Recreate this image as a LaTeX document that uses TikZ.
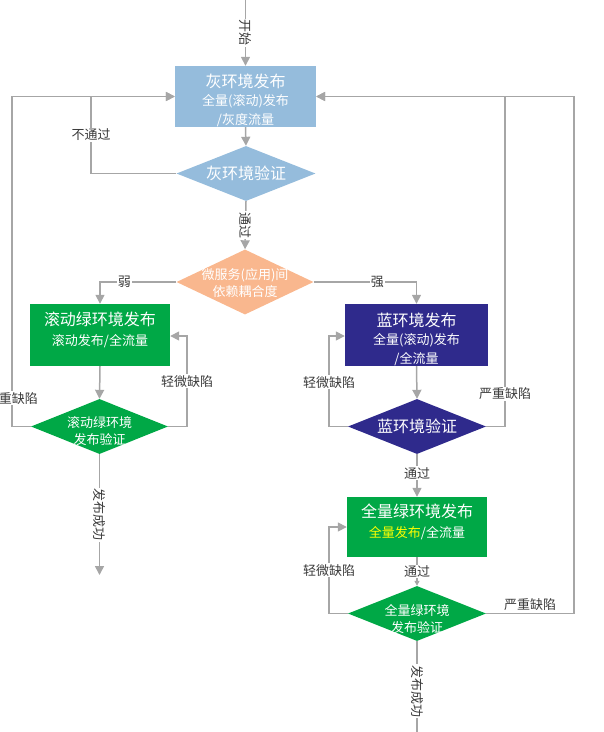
\documentclass[tikz,border=0pt]{standalone}
\usepackage{fontspec}
\setmainfont{Noto Sans CJK SC}
\usetikzlibrary{arrows.meta,shapes.geometric}
\definecolor{linegray}{HTML}{A6A6A6}
\definecolor{labgray}{HTML}{3A3A3A}
\definecolor{grayblue}{HTML}{95BCDC}
\definecolor{peach}{HTML}{F9B78E}
\definecolor{envgreen}{HTML}{00A846}
\definecolor{indigo}{HTML}{2F2A8C}
\definecolor{yel}{HTML}{FFFF00}
\tikzset{
  ln/.style={draw=linegray, line width=1.5pt},
  arr/.style={ln, -{Triangle[length=9pt,width=9pt]}},
  smallarr/.style={ln, -{Triangle[length=5pt,width=5pt]}},
  lbl/.style={text=labgray, font=\fontsize{13}{15}\selectfont, fill=white, inner sep=1pt},
  vlbl/.style={lbl, rotate=-90},
  boxs/.style={rectangle, inner sep=0pt, draw=none},
  dias/.style={diamond, inner sep=0pt, draw=none},
  dtext/.style={text=white, align=center, inner sep=0pt},
  big/.style={font=\fontsize{16}{18}\selectfont},
  mid/.style={font=\fontsize{13}{17}\selectfont},
  box3/.style={font=\fontsize{13}{18.5}\selectfont},
  box2/.style={font=\fontsize{13}{20}\selectfont},
}
\begin{document}
\begin{tikzpicture}[x=1pt,y=-1pt]
\useasboundingbox (0,0) rectangle (604,732);

% nodes
\node[boxs, fill=grayblue, minimum width=141pt, minimum height=61pt,
  label={[dtext,box3,yshift=-3.5pt]center:{\fontsize{16}{18.5}\selectfont 灰环境发布}\\全量(滚动)发布\\/灰度流量}] (gbox) at (245.5,96.5) {};
\node[dias, fill=grayblue, minimum width=139pt, minimum height=55pt,
  label={[dtext,big]center:灰环境验证}] (gdia) at (246,173.5) {};
\node[dias, fill=peach, minimum width=137pt, minimum height=65pt,
  label={[dtext,mid,yshift=-1.5pt]center:微服务(应用)间\\依赖耦合度}] (odia) at (245,282) {};

\node[boxs, fill=envgreen, minimum width=140pt, minimum height=62pt,
  label={[dtext,box2,yshift=5pt]center:{\fontsize{16}{20}\selectfont 滚动绿环境发布}\\滚动发布/全流量}] (rbox) at (100,335) {};
\node[dias, fill=envgreen, minimum width=137pt, minimum height=55pt,
  label={[dtext,mid,yshift=-5pt]center:滚动绿环境\\发布验证}] (rdia) at (99.5,426.5) {};

\node[boxs, fill=indigo, minimum width=143pt, minimum height=62pt,
  label={[dtext,box3,yshift=-4pt]center:{\fontsize{16}{18.5}\selectfont 蓝环境发布}\\全量(滚动)发布\\/全流量}] (bbox) at (416.5,335) {};
\node[dias, fill=indigo, minimum width=138pt, minimum height=55pt,
  label={[dtext,big]center:蓝环境验证}] (bdia) at (417,426.5) {};

\node[boxs, fill=envgreen, minimum width=140pt, minimum height=60pt,
  label={[dtext,box2,yshift=5pt]center:{\fontsize{16}{20}\selectfont 全量绿环境发布}\\{\color{yel}全量发布}/全流量}] (fbox) at (417,527) {};
\node[dias, fill=envgreen, minimum width=138pt, minimum height=55pt,
  label={[dtext,mid,yshift=-5pt]center:全量绿环境\\发布验证}] (fdia) at (417,613.5) {};

% helper coordinates
\coordinate (start) at (245.5,0);
\coordinate (lpA) at (91,96.5);
\coordinate (lpOut) at (12,96.5);
\coordinate (rlp) at (187,336);
\coordinate (end1) at (99.5,575);
\coordinate (blp) at (329,336);
\coordinate (brt) at (505,96.5);
\coordinate (flp) at (329,527);
\coordinate (frt) at (574,96.5);
\coordinate (end2) at (417,732);

% connectors
\draw[arr] (start) -- node[vlbl, pos=0.5]{开始} (gbox.north);
\draw[arr] (gbox.south) -- (gdia.north);
\draw[arr] (gdia.west) -| node[lbl, pos=0.75]{不通过} (lpA) -- (gbox.west);
\draw[arr] (gdia.south) -- node[vlbl, pos=0.5]{通过} (odia.north);
\draw[arr] (odia.west) -| node[lbl, pos=0.34]{弱} (rbox.north);
\draw[arr] (odia.east) -| node[lbl, pos=0.31]{强} (bbox.north);

\draw[arr] (rbox.south) -- (rdia.north);
\draw[arr] (rdia.east) -| node[lbl, pos=0.75]{轻微缺陷} (rlp) -- (rlp -| rbox.east);
\draw[arr] (rdia.west) -| node[lbl, pos=0.543]{严重缺陷} (lpOut) -- (gbox.west);
\draw[arr] (rdia.south) -- node[vlbl, pos=0.5]{发布成功} (end1);

\draw[arr] (bbox.south) -- (bdia.north);
\draw[arr] (bdia.west) -| node[lbl, pos=0.745]{轻微缺陷} (blp) -- (blp -| bbox.west);
\draw[arr] (bdia.east) -| node[lbl, pos=0.55]{严重缺陷} (brt) -- (gbox.east);
\draw[arr] (bdia.south) -- node[lbl, pos=0.45]{通过} (fbox.north);

\draw[smallarr] (fbox.south) -- node[lbl, pos=0.5]{通过} (fdia.north);
\draw[arr] (fdia.west) -| node[lbl, pos=0.75]{轻微缺陷} (flp) -- (fbox.west);
\draw[arr] (fdia.east) -| node[lbl, fill=none, above, pos=0.25, yshift=1pt]{严重缺陷} (frt) -- (gbox.east);
\draw[ln] (fdia.south) -- node[vlbl, pos=0.55]{发布成功} (end2);
\end{tikzpicture}
\end{document}
